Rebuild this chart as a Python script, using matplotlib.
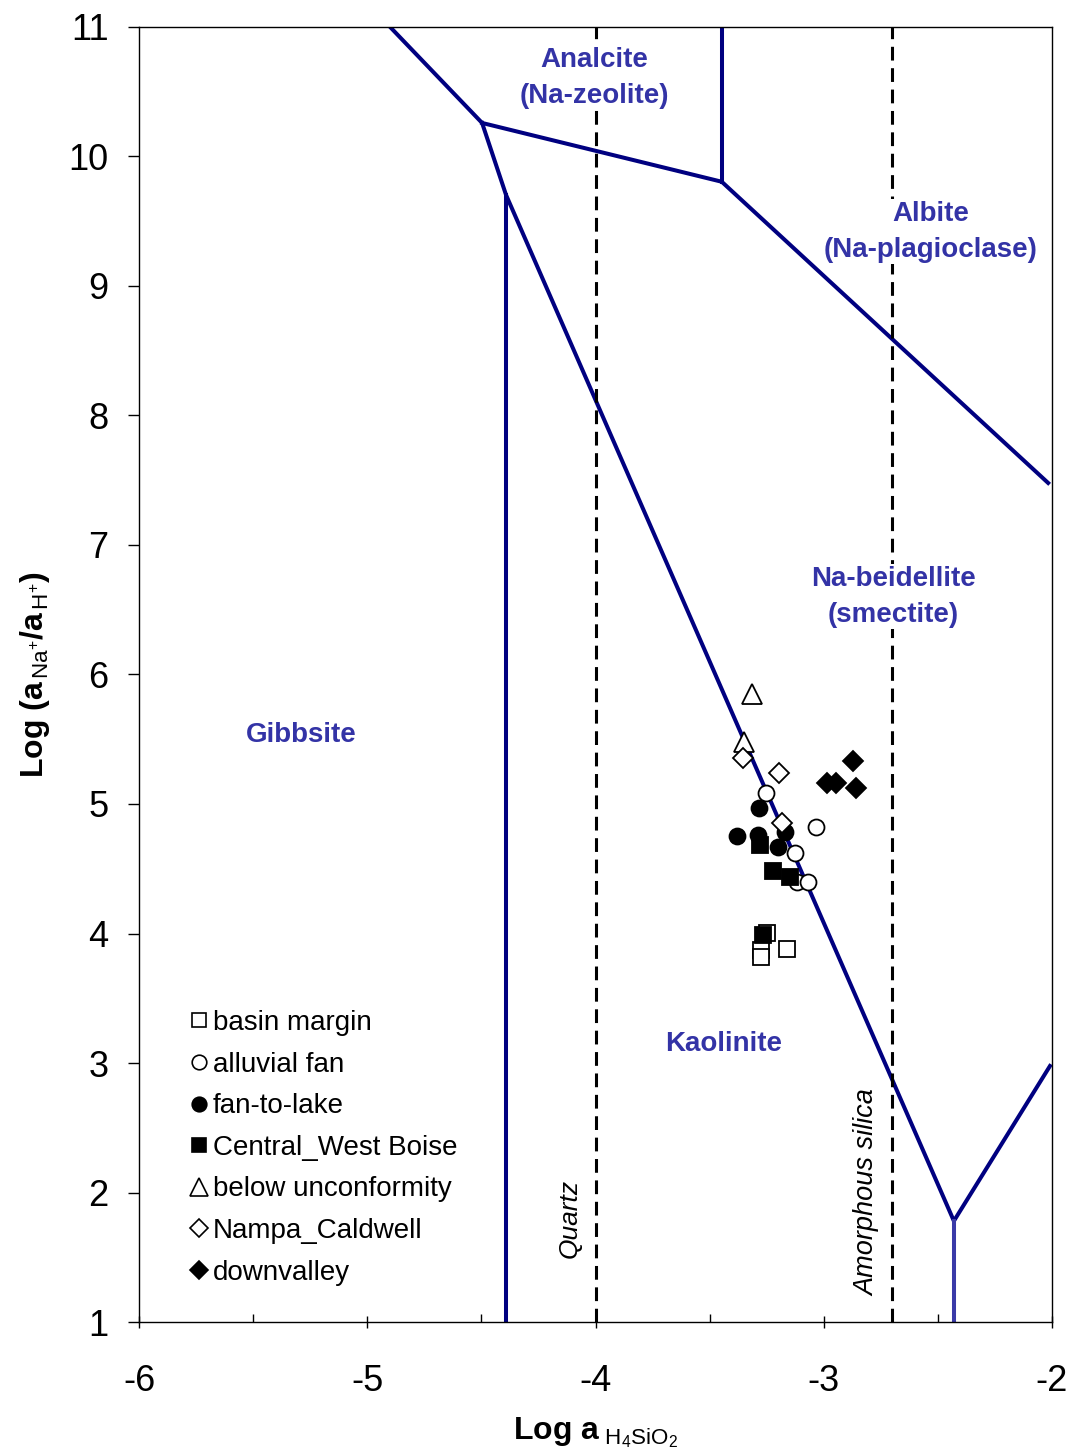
import numpy as np
import matplotlib
import matplotlib.pyplot as plt
from matplotlib.lines import Line2D

plt.rcParams['font.family'] = ['Liberation Sans', 'DejaVu Sans']
plt.rcParams['mathtext.fontset'] = 'custom'
plt.rcParams['mathtext.rm'] = 'Liberation Sans'
plt.rcParams['mathtext.bf'] = 'Liberation Sans:bold'
plt.rcParams['mathtext.it'] = 'Liberation Sans:italic'

# stability field boundaries (log aH4SiO4, log aNa+/aH+)
gibbsite_top_x = [-4.90, -4.497]
gibbsite_top_y = [11.0, 10.259]
analcite_x = [-4.497, -3.447, -2.017]
analcite_y = [10.259, 9.805, 7.479]
analcite_vert_x = [-3.447, -3.447]
analcite_vert_y = [9.805, 11.0]
kaol_x = [-4.497, -4.392, -2.430, -2.009]
kaol_y = [10.259, 9.703, 1.780, 2.977]
gibbsite_vert_x = [-4.392, -4.392]
gibbsite_vert_y = [1.0, 9.703]
lower_vert_x = [-2.430, -2.430]
lower_vert_y = [1.0, 1.780]

# silica saturation
quartz_x = -4.0
amorph_x = -2.70

# groundwater samples
basin_x = [-3.247, -3.277, -3.277, -3.160]
basin_y = [4.006, 3.873, 3.815, 3.878]
alluvial_x = [-3.253, -3.034, -3.125, -3.119, -3.068]
alluvial_y = [5.083, 4.820, 4.619, 4.400, 4.400]
fanlake_x = [-3.282, -3.381, -3.287, -3.170, -3.199]
fanlake_y = [4.967, 4.753, 4.761, 4.786, 4.670]
central_x = [-3.279, -3.224, -3.148, -3.265]
central_y = [4.683, 4.485, 4.439, 3.988]
below_x = [-3.314, -3.348]
below_y = [5.850, 5.481]
nampa_x = [-3.354, -3.196, -3.185]
nampa_y = [5.355, 5.240, 4.851]
downvalley_x = [-2.873, -2.985, -2.947, -2.859]
downvalley_y = [5.334, 5.165, 5.165, 5.121]

navy = '#000080'
label_blue = '#3333a6'

fig = plt.figure(figsize=(10.82, 14.51), dpi=100)
ax = fig.add_axes([0.1285, 0.0889, 0.8438, 0.8925])

lw = 2.9
ax.plot(gibbsite_top_x, gibbsite_top_y, color=navy, lw=lw, solid_joinstyle='miter')
ax.plot(analcite_x, analcite_y, color=navy, lw=lw)
ax.plot(analcite_vert_x, analcite_vert_y, color=navy, lw=lw)
ax.plot(kaol_x, kaol_y, color=navy, lw=lw)
ax.plot(gibbsite_vert_x, gibbsite_vert_y, color=navy, lw=lw)
ax.plot(lower_vert_x, lower_vert_y, color='#3a3aa8', lw=lw)

ax.axvline(quartz_x, color='black', lw=2.2, ls=(0, (4.5, 2.5)))
ax.axvline(amorph_x, color='black', lw=2.2, ls=(0, (4.5, 2.5)))

ms = 11.5
groups = [
    ('basin margin', basin_x, basin_y, 's', 'white'),
    ('alluvial fan', alluvial_x, alluvial_y, 'o', 'white'),
    ('fan-to-lake', fanlake_x, fanlake_y, 'o', 'black'),
    ('Central_West Boise', central_x, central_y, 's', 'black'),
    ('below unconformity', below_x, below_y, '^', 'white'),
    ('Nampa_Caldwell', nampa_x, nampa_y, 'D', 'white'),
    ('downvalley', downvalley_x, downvalley_y, 'D', 'black'),
]
handles = []
for name, xs, ys, mk, fc in groups:
    size = ms + 2.5 if mk == '^' else (ms - 1 if mk == 'D' else ms)
    ax.plot(xs, ys, ls='none', marker=mk, ms=size, mfc=fc, mec='black', mew=1.3, zorder=3)
    handles.append(Line2D([], [], ls='none', marker=mk, ms=size - 1, mfc=fc,
                          mec='black', mew=1.2, label=name))

ax.legend(handles=handles, loc='lower left', bbox_to_anchor=(0.038, 0.0196),
          frameon=False, fontsize=20, handletextpad=0.0, handlelength=1.0,
          labelspacing=0.56, borderaxespad=0)

# mineral stability fields
lab = dict(color=label_blue, fontsize=20, fontweight='bold', ha='center', va='center',
           bbox=dict(facecolor='white', edgecolor='none', pad=1), zorder=2.5)
ax.text(-4.005, 10.606, 'Analcite\n(Na-zeolite)', linespacing=1.5, **lab)
ax.text(-2.530, 9.42, 'Albite\n(Na-plagioclase)', linespacing=1.5, **lab)
ax.text(-2.695, 6.60, 'Na-beidellite\n(smectite)', linespacing=1.5, **lab)
ax.text(-5.290, 5.53, 'Gibbsite', **lab)
ax.text(-3.440, 3.15, 'Kaolinite', **lab)

ax.text(-4.115, 1.80, 'Quartz', rotation=90, style='italic', fontsize=19,
        ha='center', va='center')
ax.text(-2.810, 2.00, 'Amorphous silica', rotation=90, style='italic', fontsize=19.5,
        ha='center', va='center')

ax.set_xlim(-6, -2)
ax.set_ylim(1, 11)
ax.set_xticks(np.arange(-6, -1, 1))
ax.set_yticks(np.arange(1, 12, 1))
ax.set_xticklabels(['-6', '-5', '-4', '-3', '-2'])
ax.set_xticks(np.arange(-5.5, -2, 1), minor=True)
ax.tick_params(axis='x', which='major', direction='inout', length=8, width=1,
               labelsize=26, pad=26)
ax.tick_params(axis='x', which='minor', direction='in', length=6, width=1)
ax.tick_params(axis='y', which='major', direction='out', length=8, width=1,
               labelsize=26, pad=14)
for s in ax.spines.values():
    s.set_linewidth(1.0)

ax.set_xlabel(r'$\mathbf{Log\ a}_{\ \mathrm{H_4SiO_2}}$', fontsize=23, labelpad=12)
ax.set_ylabel(r'$\mathbf{Log\ (a}_{\mathrm{\,Na^{+}}}\mathbf{/a}_{\mathrm{\,H^{+}}}\mathbf{)}$',
              fontsize=23, labelpad=12)

fig.savefig('out.png', dpi=100)
